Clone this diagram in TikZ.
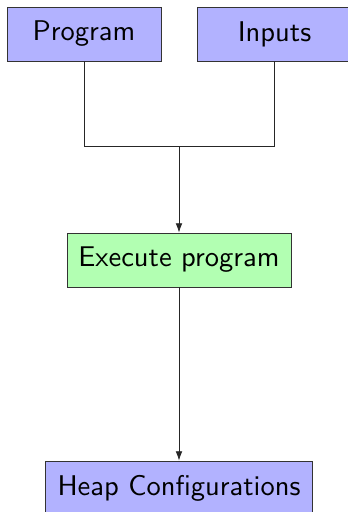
\documentclass[tikz,border=0pt]{standalone}
\usetikzlibrary{arrows.meta}
% labels are set in the 10pt sans design and enlarged
\newcommand{\boxlabel}[1]{\scalebox{2.14}{\sffamily\fontsize{10}{12}\selectfont #1}}
\begin{document}
\begin{tikzpicture}[x=0.75pt,y=-0.75pt,
  box/.style={draw=black!80, line width=0.6pt, inner sep=0pt, text=black},
  bluebox/.style={box, fill=blue!30},
  greenbox/.style={box, fill=green!30},
  link/.style={draw=black!85, line width=0.6pt},
  arr/.style={link, -{Latex[length=7pt,width=5pt]}}]
\useasboundingbox (0,0) rectangle (348,512);
\node[bluebox, minimum width=115.5pt, minimum height=40.5pt] (prog) at (84,34) {\boxlabel{Program}};
\node[bluebox, minimum width=115.5pt, minimum height=40.5pt] (inp) at (274.5,34) {\boxlabel{Inputs}};
\node[greenbox, minimum width=168pt, minimum height=40.5pt] (exec) at (179,260) {\boxlabel{Execute program}};
\node[bluebox, minimum width=200pt, minimum height=40.5pt] (heap) at (179,488) {\boxlabel{Heap Configurations}};
\coordinate (join) at (179,146);
\draw[link] (prog.south) |- (join);
\draw[link] (inp.south) |- (join);
\draw[arr] (join) -- (exec.north);
\draw[arr] (exec.south) -- (heap.north);
\end{tikzpicture}
\end{document}
